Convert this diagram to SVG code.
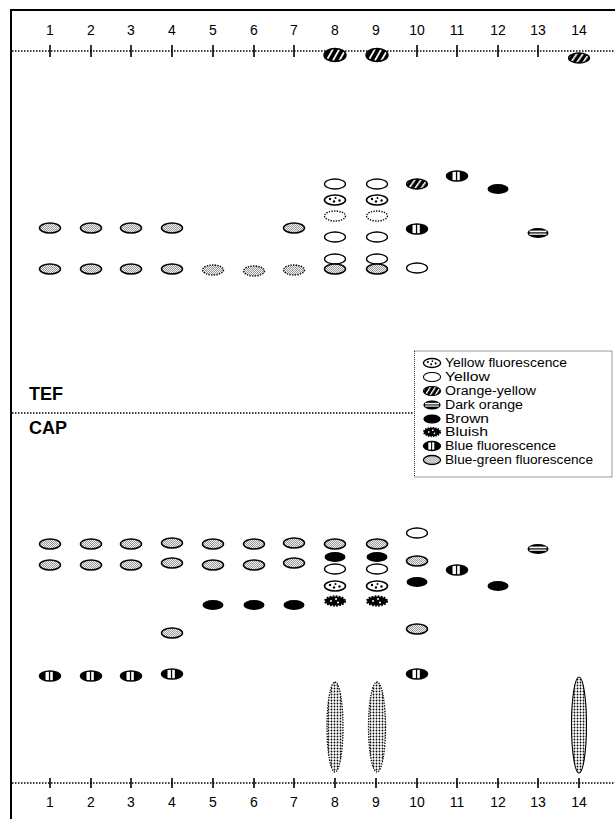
<svg xmlns="http://www.w3.org/2000/svg" xmlns:xlink="http://www.w3.org/1999/xlink" width="615" height="819" viewBox="0 0 615 819">
  <style>
    .lbl { font-family: "Liberation Sans", Arial, sans-serif; font-size: 14px; fill: #000; text-anchor: middle; }
    .sec { font-family: "Liberation Sans", Arial, sans-serif; font-size: 18px; font-weight: bold; fill: #000; }
    .leg { font-family: "Liberation Sans", Arial, sans-serif; font-size: 12px; fill: #000; }
    .dot { stroke: #000; stroke-width: 1.3; stroke-dasharray: 1.5 1.5; fill: none; }
    .tick { stroke: #000; stroke-width: 1.6; }
    .frame { stroke: #000; stroke-width: 2; fill: none; }
  </style>
  <defs>
    <!-- fine grey stipple for blue-green fluorescence -->
    <pattern id="stip" patternUnits="userSpaceOnUse" width="2" height="2">
      <rect width="2" height="2" fill="#f2f2f2"/>
      <rect width="1" height="1" fill="#999999"/>
      <rect x="1" y="1" width="1" height="1" fill="#999999"/>
    </pattern>
    <!-- slanted white stripes on black for orange-yellow -->
    <pattern id="hatch" patternUnits="userSpaceOnUse" width="5" height="5" patternTransform="rotate(35)">
      <rect width="5" height="5" fill="#000"/>
      <rect width="1.6" height="5" fill="#fff"/>
    </pattern>
    <!-- dense dots for the elongated streaks -->
    <pattern id="dots" patternUnits="userSpaceOnUse" width="3" height="3">
      <rect width="3" height="3" fill="#fff"/>
      <circle cx="1.5" cy="1.5" r="0.9" fill="#000"/>
    </pattern>

    <!-- spot types, centred on 0,0 -->
    <g id="bg"><ellipse rx="10.5" ry="5" fill="url(#stip)" stroke="#000" stroke-width="1.5"/></g>
    <g id="yel"><ellipse rx="10.5" ry="5" fill="#fff" stroke="#000" stroke-width="1.3"/></g>
    <g id="yf">
      <ellipse rx="10.5" ry="5" fill="#fff" stroke="#000" stroke-width="1.6"/>
      <circle cx="-5" cy="-1" r="1.2" fill="#000"/>
      <circle cx="-1" cy="1.5" r="1.2" fill="#000"/>
      <circle cx="0.5" cy="-2" r="1" fill="#000"/>
      <circle cx="4.5" cy="0.5" r="1.2" fill="#000"/>
    </g>
    <g id="yfd"><ellipse rx="10.5" ry="5" fill="#fff" stroke="#000" stroke-width="1.4" stroke-dasharray="1.3 1.3"/></g>
    <g id="yfg"><ellipse rx="10.5" ry="5" fill="url(#stip)" stroke="#000" stroke-width="1.4" stroke-dasharray="1.3 1.3"/></g>
    <g id="oy"><ellipse rx="10.5" ry="5" fill="url(#hatch)" stroke="#000" stroke-width="1.3"/></g>
    <g id="do">
      <ellipse rx="10.5" ry="5" fill="#000"/>
      <rect x="-8.5" y="-2.4" width="17" height="1.7" fill="#fff"/>
      <rect x="-8.5" y="0.5" width="17" height="1.3" fill="#fff"/>
    </g>
    <g id="br"><ellipse rx="10.5" ry="5" fill="#000"/></g>
    <g id="bl">
      <ellipse rx="10" ry="4.6" fill="#000" stroke="#000" stroke-width="2.2" stroke-dasharray="1.6 1.4"/>
      <circle cx="-4" cy="0" r="1" fill="#fff"/>
      <circle cx="1" cy="-2" r="1" fill="#fff"/>
      <circle cx="3" cy="1.5" r="1" fill="#fff"/>
    </g>
    <g id="bf">
      <ellipse rx="10.5" ry="5" fill="#000"/>
      <rect x="-4.5" y="-5" width="3.4" height="10" fill="#fff"/>
      <rect x="0.2" y="-5" width="2.6" height="10" fill="#fff"/>
      <ellipse rx="10.5" ry="5" fill="none" stroke="#000" stroke-width="1.4"/>
    </g>
  </defs>

  <rect width="615" height="819" fill="#fff"/>

  <!-- frame -->
  <g id="frame">
    <line class="frame" x1="11" y1="10" x2="615" y2="10"/>
    <line class="frame" x1="11" y1="9" x2="11" y2="819"/>
  </g>

  <!-- lane axes -->
  <g id="axes">
    <line class="dot" x1="12" y1="51" x2="615" y2="51"/>
    <line class="dot" x1="12" y1="783" x2="615" y2="783"/>
    <g id="ticks-top">
      <line class="tick" x1="50" y1="45" x2="50" y2="57"/>
      <line class="tick" x1="91" y1="45" x2="91" y2="57"/>
      <line class="tick" x1="131" y1="45" x2="131" y2="57"/>
      <line class="tick" x1="172" y1="45" x2="172" y2="57"/>
      <line class="tick" x1="213" y1="45" x2="213" y2="57"/>
      <line class="tick" x1="254" y1="45" x2="254" y2="57"/>
      <line class="tick" x1="294" y1="45" x2="294" y2="57"/>
      <line class="tick" x1="417" y1="45" x2="417" y2="57"/>
      <line class="tick" x1="457" y1="45" x2="457" y2="57"/>
      <line class="tick" x1="498" y1="45" x2="498" y2="57"/>
      <line class="tick" x1="538" y1="45" x2="538" y2="57"/>
    </g>
    <g id="ticks-bottom">
      <line class="tick" x1="50" y1="778" x2="50" y2="788"/>
      <line class="tick" x1="91" y1="778" x2="91" y2="788"/>
      <line class="tick" x1="131" y1="778" x2="131" y2="788"/>
      <line class="tick" x1="172" y1="778" x2="172" y2="788"/>
      <line class="tick" x1="213" y1="778" x2="213" y2="788"/>
      <line class="tick" x1="254" y1="778" x2="254" y2="788"/>
      <line class="tick" x1="294" y1="778" x2="294" y2="788"/>
      <line class="tick" x1="335" y1="778" x2="335" y2="788"/>
      <line class="tick" x1="376" y1="778" x2="376" y2="788"/>
      <line class="tick" x1="417" y1="778" x2="417" y2="788"/>
      <line class="tick" x1="457" y1="778" x2="457" y2="788"/>
      <line class="tick" x1="498" y1="778" x2="498" y2="788"/>
      <line class="tick" x1="538" y1="778" x2="538" y2="788"/>
      <line class="tick" x1="579" y1="778" x2="579" y2="788"/>
    </g>
    <g id="labels-top">
      <text class="lbl" x="50" y="35">1</text>
      <text class="lbl" x="91" y="35">2</text>
      <text class="lbl" x="131" y="35">3</text>
      <text class="lbl" x="172" y="35">4</text>
      <text class="lbl" x="213" y="35">5</text>
      <text class="lbl" x="254" y="35">6</text>
      <text class="lbl" x="294" y="35">7</text>
      <text class="lbl" x="335" y="35">8</text>
      <text class="lbl" x="376" y="35">9</text>
      <text class="lbl" x="417" y="35">10</text>
      <text class="lbl" x="457" y="35">11</text>
      <text class="lbl" x="498" y="35">12</text>
      <text class="lbl" x="538" y="35">13</text>
      <text class="lbl" x="579" y="35">14</text>
    </g>
    <g id="labels-bottom">
      <text class="lbl" x="50" y="807">1</text>
      <text class="lbl" x="91" y="807">2</text>
      <text class="lbl" x="131" y="807">3</text>
      <text class="lbl" x="172" y="807">4</text>
      <text class="lbl" x="213" y="807">5</text>
      <text class="lbl" x="254" y="807">6</text>
      <text class="lbl" x="294" y="807">7</text>
      <text class="lbl" x="335" y="807">8</text>
      <text class="lbl" x="376" y="807">9</text>
      <text class="lbl" x="417" y="807">10</text>
      <text class="lbl" x="457" y="807">11</text>
      <text class="lbl" x="498" y="807">12</text>
      <text class="lbl" x="538" y="807">13</text>
      <text class="lbl" x="579" y="807">14</text>
    </g>
  </g>

  <!-- section divider -->
  <g id="sections">
    <line class="dot" x1="12" y1="413" x2="414" y2="413"/>
    <text class="sec" x="29" y="400">TEF</text>
    <text class="sec" x="29" y="434">CAP</text>
  </g>

  <!-- TEF plate -->
  <g id="tef">
    <!-- spots sitting on the upper line -->
    <use href="#oy" transform="translate(335,55) scale(1.05,1.3)"/>
    <use href="#oy" transform="translate(377,55) scale(1.05,1.3)"/>
    <use href="#oy" x="579" y="58"/>

    <use href="#bg" x="50" y="228"/>
    <use href="#bg" x="91" y="228"/>
    <use href="#bg" x="131" y="228"/>
    <use href="#bg" x="172" y="228"/>
    <use href="#bg" x="294" y="228"/>

    <use href="#bg" x="50" y="269"/>
    <use href="#bg" x="91" y="269"/>
    <use href="#bg" x="131" y="269"/>
    <use href="#bg" x="172" y="269"/>
    <use href="#yfg" x="213" y="270"/>
    <use href="#yfg" x="254" y="271"/>
    <use href="#yfg" x="294" y="270"/>

    <use href="#yel" x="335" y="184"/>
    <use href="#yf" x="335" y="200"/>
    <use href="#yfd" x="335" y="216"/>
    <use href="#yel" x="335" y="237"/>
    <use href="#yel" x="335" y="259"/>
    <use href="#bg" x="335" y="269"/>

    <use href="#yel" x="377" y="184"/>
    <use href="#yf" x="377" y="200"/>
    <use href="#yfd" x="377" y="216"/>
    <use href="#yel" x="377" y="237"/>
    <use href="#yel" x="377" y="259"/>
    <use href="#bg" x="377" y="269"/>

    <use href="#oy" x="417" y="184"/>
    <use href="#bf" x="417" y="229"/>
    <use href="#yel" x="417" y="268"/>

    <use href="#bf" x="457" y="176"/>
    <use href="#br" x="498" y="189"/>
    <use href="#do" x="538" y="233"/>
  </g>

  <!-- CAP plate -->
  <g id="cap">
    <use href="#bg" x="50" y="544"/>
    <use href="#bg" x="91" y="544"/>
    <use href="#bg" x="131" y="544"/>
    <use href="#bg" x="172" y="543"/>
    <use href="#bg" x="213" y="544"/>
    <use href="#bg" x="254" y="544"/>
    <use href="#bg" x="294" y="543"/>

    <use href="#bg" x="50" y="565"/>
    <use href="#bg" x="91" y="565"/>
    <use href="#bg" x="131" y="565"/>
    <use href="#bg" x="172" y="563"/>
    <use href="#bg" x="213" y="565"/>
    <use href="#bg" x="254" y="565"/>
    <use href="#bg" x="294" y="563"/>

    <use href="#br" x="213" y="605"/>
    <use href="#br" x="254" y="605"/>
    <use href="#br" x="294" y="605"/>

    <use href="#bg" x="172" y="633"/>

    <use href="#bf" x="50" y="676"/>
    <use href="#bf" x="91" y="676"/>
    <use href="#bf" x="131" y="676"/>
    <use href="#bf" x="172" y="674"/>

    <use href="#bg" x="335" y="544"/>
    <use href="#br" x="335" y="557"/>
    <use href="#yel" x="335" y="569"/>
    <use href="#yf" x="335" y="586"/>
    <use href="#bl" x="335" y="601"/>

    <use href="#bg" x="377" y="544"/>
    <use href="#br" x="377" y="557"/>
    <use href="#yel" x="377" y="569"/>
    <use href="#yf" x="377" y="586"/>
    <use href="#bl" x="377" y="601"/>

    <use href="#yel" x="417" y="533"/>
    <use href="#bg" x="417" y="561"/>
    <use href="#br" x="417" y="582"/>
    <use href="#bg" x="417" y="629"/>
    <use href="#bf" x="417" y="674"/>

    <use href="#bf" x="457" y="570"/>
    <use href="#br" x="498" y="586"/>
    <use href="#do" x="538" y="549"/>

    <!-- elongated streaks -->
    <ellipse cx="335" cy="727" rx="8" ry="45" fill="url(#dots)" stroke="#000" stroke-width="1.3" stroke-dasharray="1.3 1.3"/>
    <ellipse cx="377" cy="727" rx="8.5" ry="45" fill="url(#dots)" stroke="#000" stroke-width="1.3" stroke-dasharray="1.3 1.3"/>
    <ellipse cx="579" cy="725" rx="7.5" ry="48" fill="url(#dots)" stroke="#000" stroke-width="1.1"/>
  </g>

  <!-- legend -->
  <g id="legend">
    <rect x="414.5" y="351" width="197.5" height="126" fill="#fff" stroke="#000" stroke-width="0.8" stroke-dasharray="1 1"/>
    <use href="#yf" transform="translate(432,363) scale(0.82,0.9)"/>
    <use href="#yel" transform="translate(432,377) scale(0.82,0.9)"/>
    <use href="#oy" transform="translate(432,391) scale(0.82,0.9)"/>
    <use href="#do" transform="translate(432,405) scale(0.82,0.9)"/>
    <use href="#br" transform="translate(432,419) scale(0.82,0.9)"/>
    <use href="#bl" transform="translate(432,432) scale(0.82,0.9)"/>
    <use href="#bf" transform="translate(432,446) scale(0.82,0.9)"/>
    <use href="#bg" transform="translate(432,460) scale(0.82,0.9)"/>
    <text class="leg" x="445" y="367" textLength="122" lengthAdjust="spacingAndGlyphs">Yellow fluorescence</text>
    <text class="leg" x="445" y="381" textLength="45" lengthAdjust="spacingAndGlyphs">Yellow</text>
    <text class="leg" x="445" y="395" textLength="91" lengthAdjust="spacingAndGlyphs">Orange-yellow</text>
    <text class="leg" x="445" y="409" textLength="78" lengthAdjust="spacingAndGlyphs">Dark orange</text>
    <text class="leg" x="445" y="423" textLength="44" lengthAdjust="spacingAndGlyphs">Brown</text>
    <text class="leg" x="445" y="436" textLength="43" lengthAdjust="spacingAndGlyphs">Bluish</text>
    <text class="leg" x="445" y="450" textLength="111" lengthAdjust="spacingAndGlyphs">Blue fluorescence</text>
    <text class="leg" x="445" y="464" textLength="148" lengthAdjust="spacingAndGlyphs">Blue-green fluorescence</text>
  </g>
</svg>
